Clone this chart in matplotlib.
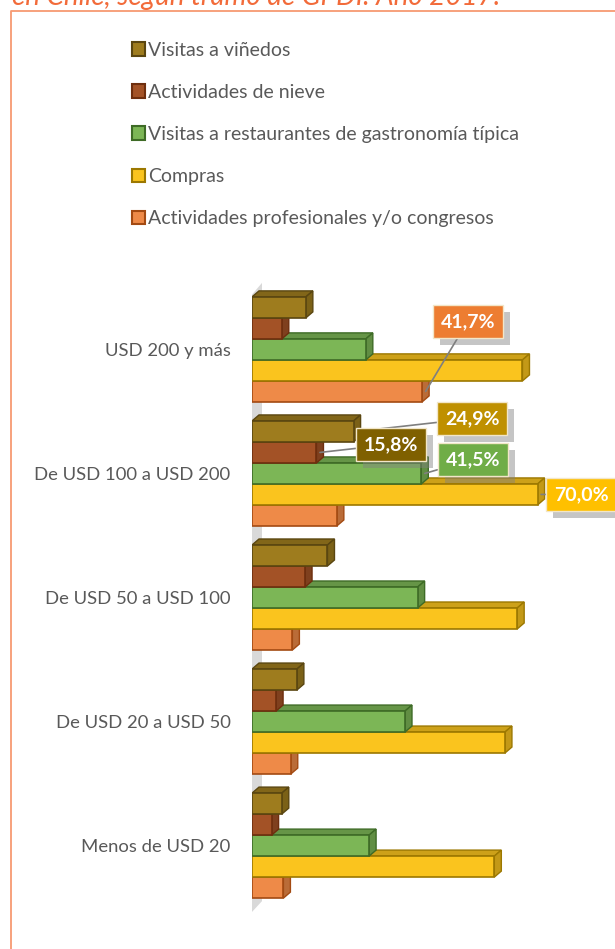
import matplotlib
matplotlib.use("Agg")
import matplotlib.pyplot as plt
from matplotlib.patches import Rectangle, Polygon, Patch
from matplotlib.lines import Line2D
from matplotlib import patheffects as pe
from matplotlib.colors import to_rgb

plt.rcParams["font.family"] = ["Lato", "DejaVu Sans"]

categories = ["USD 200 y más", "De USD 100 a USD 200", "De USD 50 a USD 100",
              "De USD 20 a USD 50", "Menos de USD 20"]
series = ["Visitas a viñedos", "Actividades de nieve",
          "Visitas a restaurantes de gastronomía típica", "Compras",
          "Actividades profesionales y/o congresos"]
vinedos = [13.2, 24.9, 18.5, 11.0, 7.3]
nieve = [7.3, 15.8, 13.0, 5.9, 4.8]
restaurantes = [27.9, 41.5, 40.6, 37.5, 28.7]
compras = [66.3, 70.0, 65.0, 62.0, 59.4]
profesionales = [41.7, 20.8, 9.9, 9.5, 7.7]
values = [vinedos, nieve, restaurantes, compras, profesionales]

face = ["#9E7C1E", "#A35226", "#7CB656", "#FAC41E", "#EE8A48"]
edge = ["#5A4610", "#6E2E0E", "#3E6B26", "#9C7800", "#A34A12"]

# labelled points: (series index, category index, box colour, offset px)
labels = [(4, 0, "#ED7D31", (42, 70)),
          (0, 1, "#BF9000", (115, 13)),
          (1, 1, "#7F6000", (71, 8)),
          (2, 1, "#70AD47", (48, 14)),
          (3, 1, "#FFC000", (40, 0))]


def shade(c, f):
    r, g, b = to_rgb(c)
    return (r * f, g * f, b * f)


W, H = 615, 949
fig = plt.figure(figsize=(W / 100, H / 100), dpi=100)
ax = fig.add_axes([252 / W, 1 - 925 / H, 359 / W, 655 / H])
xmax = 88
ax.set_xlim(0, xmax)
ax.set_ylim(4.64, -0.64)

px_x = 359 / xmax          # pixels per percent
px_y = 655 / (4.64 + 0.64)  # pixels per category
h = 21 / px_y
dx = 7 / px_x
dy = -6 / px_y

# side wall of the 3D plot
top = -2.5 * h
bot = 4 + 2.5 * h + 16 / px_y
wx0, wx1 = -2 / px_x, 10 / px_x
ax.add_patch(Polygon([(wx0, top), (wx1, top - 14 / px_y), (wx1, bot - 13 / px_y), (wx0, bot)],
                     closed=True, facecolor="#D9D9D9", edgecolor="none", zorder=1))

z = 2
for i in range(len(categories)):
    for j in reversed(range(len(series))):
        v = values[j][i]
        c = i + (j - 2) * h
        yt, yb = c - h / 2, c + h / 2
        ax.add_patch(Polygon([(0, yt), (v, yt), (v + dx, yt + dy), (dx, yt + dy)], closed=True,
                             facecolor=shade(face[j], 0.82), edgecolor=edge[j], lw=1.0, zorder=z))
        ax.add_patch(Polygon([(v, yt), (v + dx, yt + dy), (v + dx, yb + dy), (v, yb)], closed=True,
                             facecolor=shade(face[j], 0.78), edgecolor=edge[j], lw=1.0, zorder=z))
        ax.add_patch(Rectangle((0, yt), v, h, facecolor=face[j], edgecolor=edge[j],
                               lw=1.2, zorder=z))
        z += 1

for j, i, col, off in labels:
    v = values[j][i]
    c = i + (j - 2) * h
    ann = ax.annotate(f"{v:.1f}%".replace(".", ","), xy=(v + dx / 2, c), xytext=off,
                      textcoords="offset pixels", ha="center", va="center",
                      color="white", fontsize=14, fontweight="bold", zorder=100,
                      bbox=dict(boxstyle="square,pad=0.4", fc=col, ec="#F2E6C8", lw=1),
                      arrowprops=dict(arrowstyle="-", color="#7F7F7F", lw=1.2,
                                      shrinkA=0, shrinkB=0))
    ann.get_bbox_patch().set_path_effects([pe.withSimplePatchShadow(offset=(5, -5), shadow_rgbFace="gray", alpha=0.45)])

ax.set_yticks(range(len(categories)))
ax.set_yticklabels(categories, fontsize=13.3, color="#595959")
ax.tick_params(left=False, bottom=False, labelbottom=False, pad=12)
for s in ax.spines.values():
    s.set_visible(False)

handles = [Patch(facecolor=face[j], edgecolor=edge[j], lw=1.5) for j in range(len(series))]
fig.legend(handles, series, loc="upper left", bbox_to_anchor=(124 / W, 1 - 34 / H),
           frameon=False, fontsize=14, labelcolor="#595959", handlelength=0.68,
           handleheight=0.68, handletextpad=0.15, labelspacing=1.29, borderaxespad=0)

fig.text(12 / W, 1 - 5 / H, "en Chile, según tramo de GPDI. Año 2017.", color="#F26B3A",
         fontsize=20, style="italic", va="baseline", ha="left")
fig.add_artist(Line2D([11 / W, 11 / W, 1.0], [0, 1 - 11 / H, 1 - 11 / H],
                      transform=fig.transFigure, color="#F79A72", lw=1.3))

fig.savefig("out.png", dpi=100)
